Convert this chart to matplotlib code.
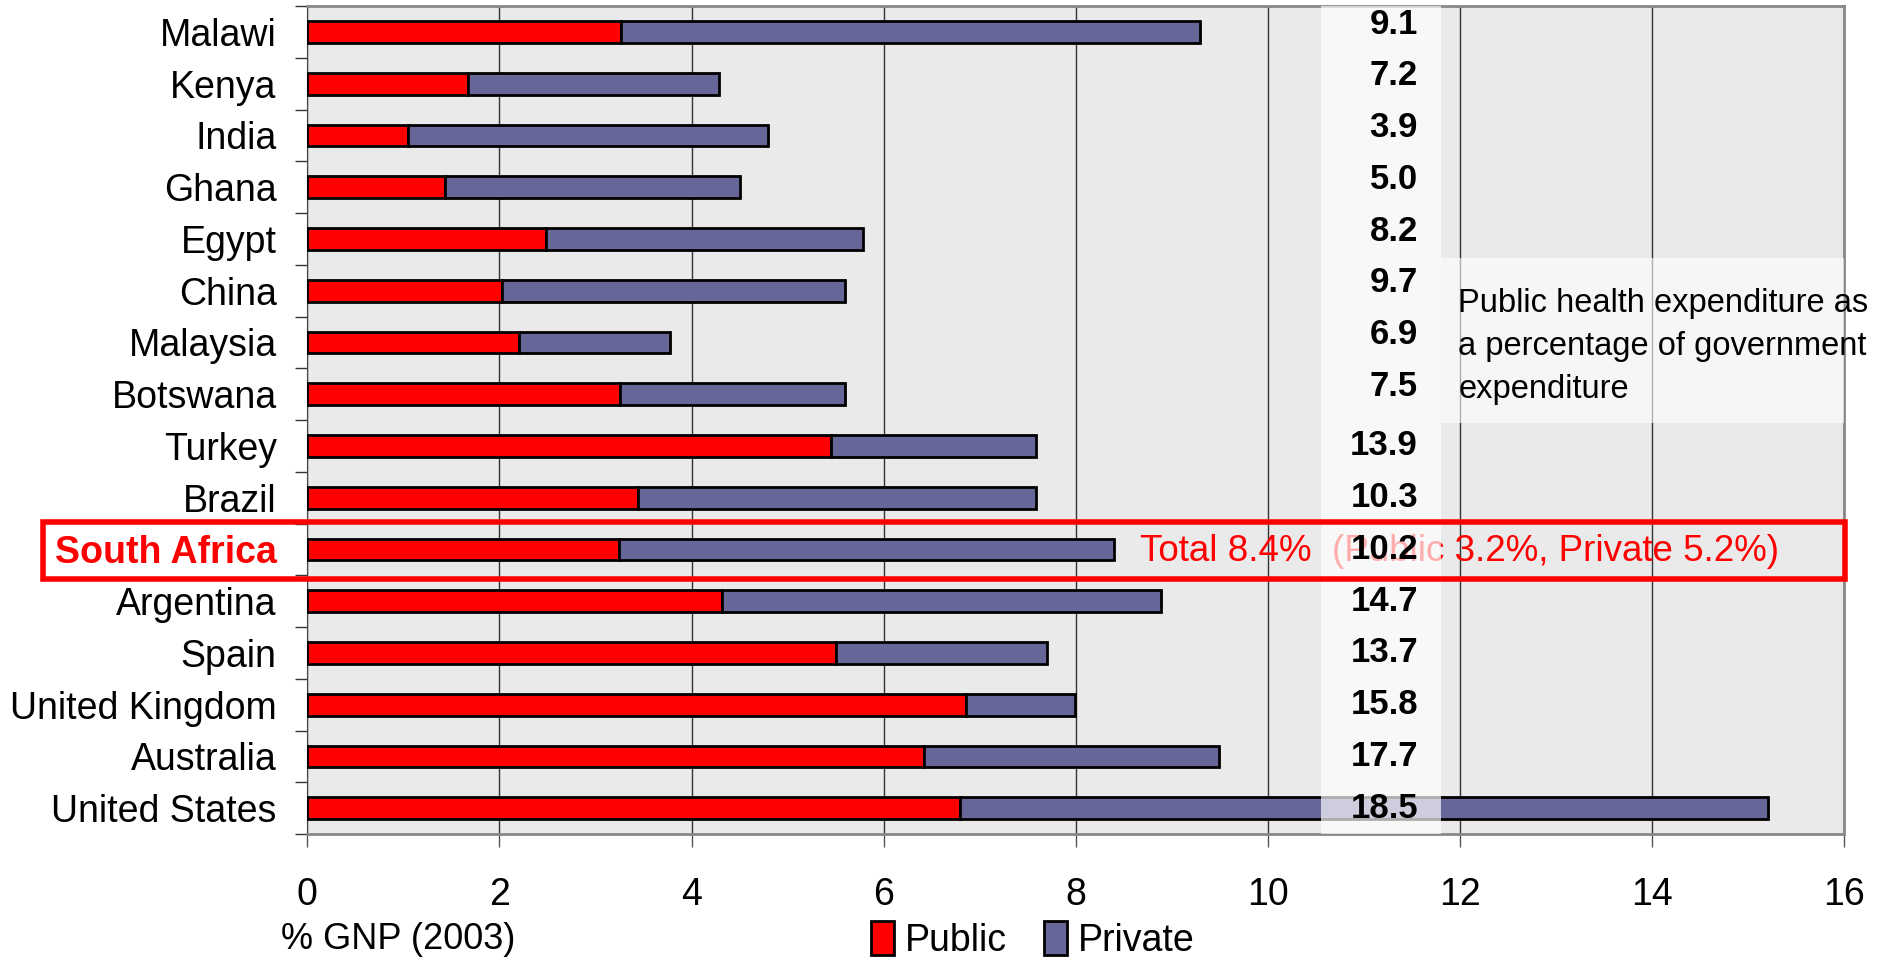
import numpy as np
import matplotlib.pyplot as plt
from matplotlib.patches import Rectangle

countries = ["Malawi", "Kenya", "India", "Ghana", "Egypt", "China", "Malaysia",
             "Botswana", "Turkey", "Brazil", "South Africa", "Argentina", "Spain",
             "United Kingdom", "Australia", "United States"]
public = [3.27, 1.67, 1.05, 1.43, 2.48, 2.03, 2.2, 3.26, 5.45, 3.44, 3.24,
          4.32, 5.5, 6.86, 6.42, 6.79]
total = [9.29, 4.29, 4.8, 4.5, 5.78, 5.6, 3.78, 5.6, 7.59, 7.59, 8.4,
         8.89, 7.7, 7.99, 9.49, 15.2]
private = [t - p for t, p in zip(total, public)]
gov_share = ["9.1", "7.2", "3.9", "5.0", "8.2", "9.7", "6.9", "7.5", "13.9",
             "10.3", "10.2", "14.7", "13.7", "15.8", "17.7", "18.5"]

plt.rcParams['font.family'] = ['Liberation Sans', 'DejaVu Sans']

fig = plt.figure(figsize=(18.85, 9.57), dpi=100)
ax = fig.add_axes([0.163, 0.1285, 0.8155, 0.8652])
ax.set_facecolor('#eaeaea')

y = np.arange(len(countries))
ax.barh(y, public, height=0.42, color='#ff0000', edgecolor='black', linewidth=2, label='Public', zorder=3)
ax.barh(y, private, left=public, height=0.42, color='#666699', edgecolor='black', linewidth=2, label='Private', zorder=3)

ax.set_xlim(0, 16)
ax.set_ylim(15.5, -0.5)
ax.set_xticks(range(0, 17, 2))
ax.xaxis.grid(True, color='#333333', linewidth=1, zorder=1)
ax.set_axisbelow(True)
ax.set_yticks(y)
ax.set_yticklabels(countries, fontsize=27)
ax.set_yticks(np.arange(-0.5, 16, 1), minor=True)
ax.tick_params(axis='y', which='major', length=0, pad=22)
ax.tick_params(axis='y', which='minor', length=9, width=1, color='#333333')
ax.tick_params(axis='x', labelsize=27, length=9, width=1, pad=22, color='#555555')
for side in ['top', 'right', 'bottom']:
    ax.spines[side].set_color('#888888')
    ax.spines[side].set_linewidth(2)
ax.spines['left'].set_color('#444444')

sa = countries.index("South Africa")
lab = ax.get_yticklabels()[sa]
lab.set_color('#ff0000')
lab.set_fontweight('bold')

# red annotation for South Africa, partly covered by the light band
ax.text(8.67, sa + 0.05, "Total 8.4%  (Public 3.2%, Private 5.2%)", color='#ff0000',
        fontsize=26.5, va='center', ha='left', zorder=4)

# light bands behind the number column and the note
ax.add_patch(Rectangle((10.55, -0.5), 1.25, 16, facecolor='white', alpha=0.68,
                       edgecolor='none', zorder=5))
ax.add_patch(Rectangle((11.8, 4.37), 4.2, 3.18, facecolor='white', alpha=0.6,
                       edgecolor='none', zorder=5))

for i, s in enumerate(gov_share):
    off = -0.15 if i < 8 else 0
    ax.text(11.56, i + off, s, fontsize=25, fontweight='bold', ha='right',
            va='center', zorder=6)

ax.text(11.98, 6.08, "Public health expenditure as\na percentage of government\nexpenditure",
        fontsize=23.5, ha='left', va='center', linespacing=1.5, zorder=6)

fig.patches.append(Rectangle((0.0228, 0.395), 0.956, 0.0595, transform=fig.transFigure,
                             fill=False, edgecolor='#ff0000', linewidth=4, zorder=10))

fig.text(0.149, 0.018, "% GNP (2003)", fontsize=26, ha='left', va='center')
fig.legend(loc='center', bbox_to_anchor=(0.548, 0.018), ncol=2, frameon=False,
           fontsize=27, handlelength=0.6, handleheight=1.0, handletextpad=0.3,
           columnspacing=1.0)

plt.savefig("out.png")
plt.close(fig)
